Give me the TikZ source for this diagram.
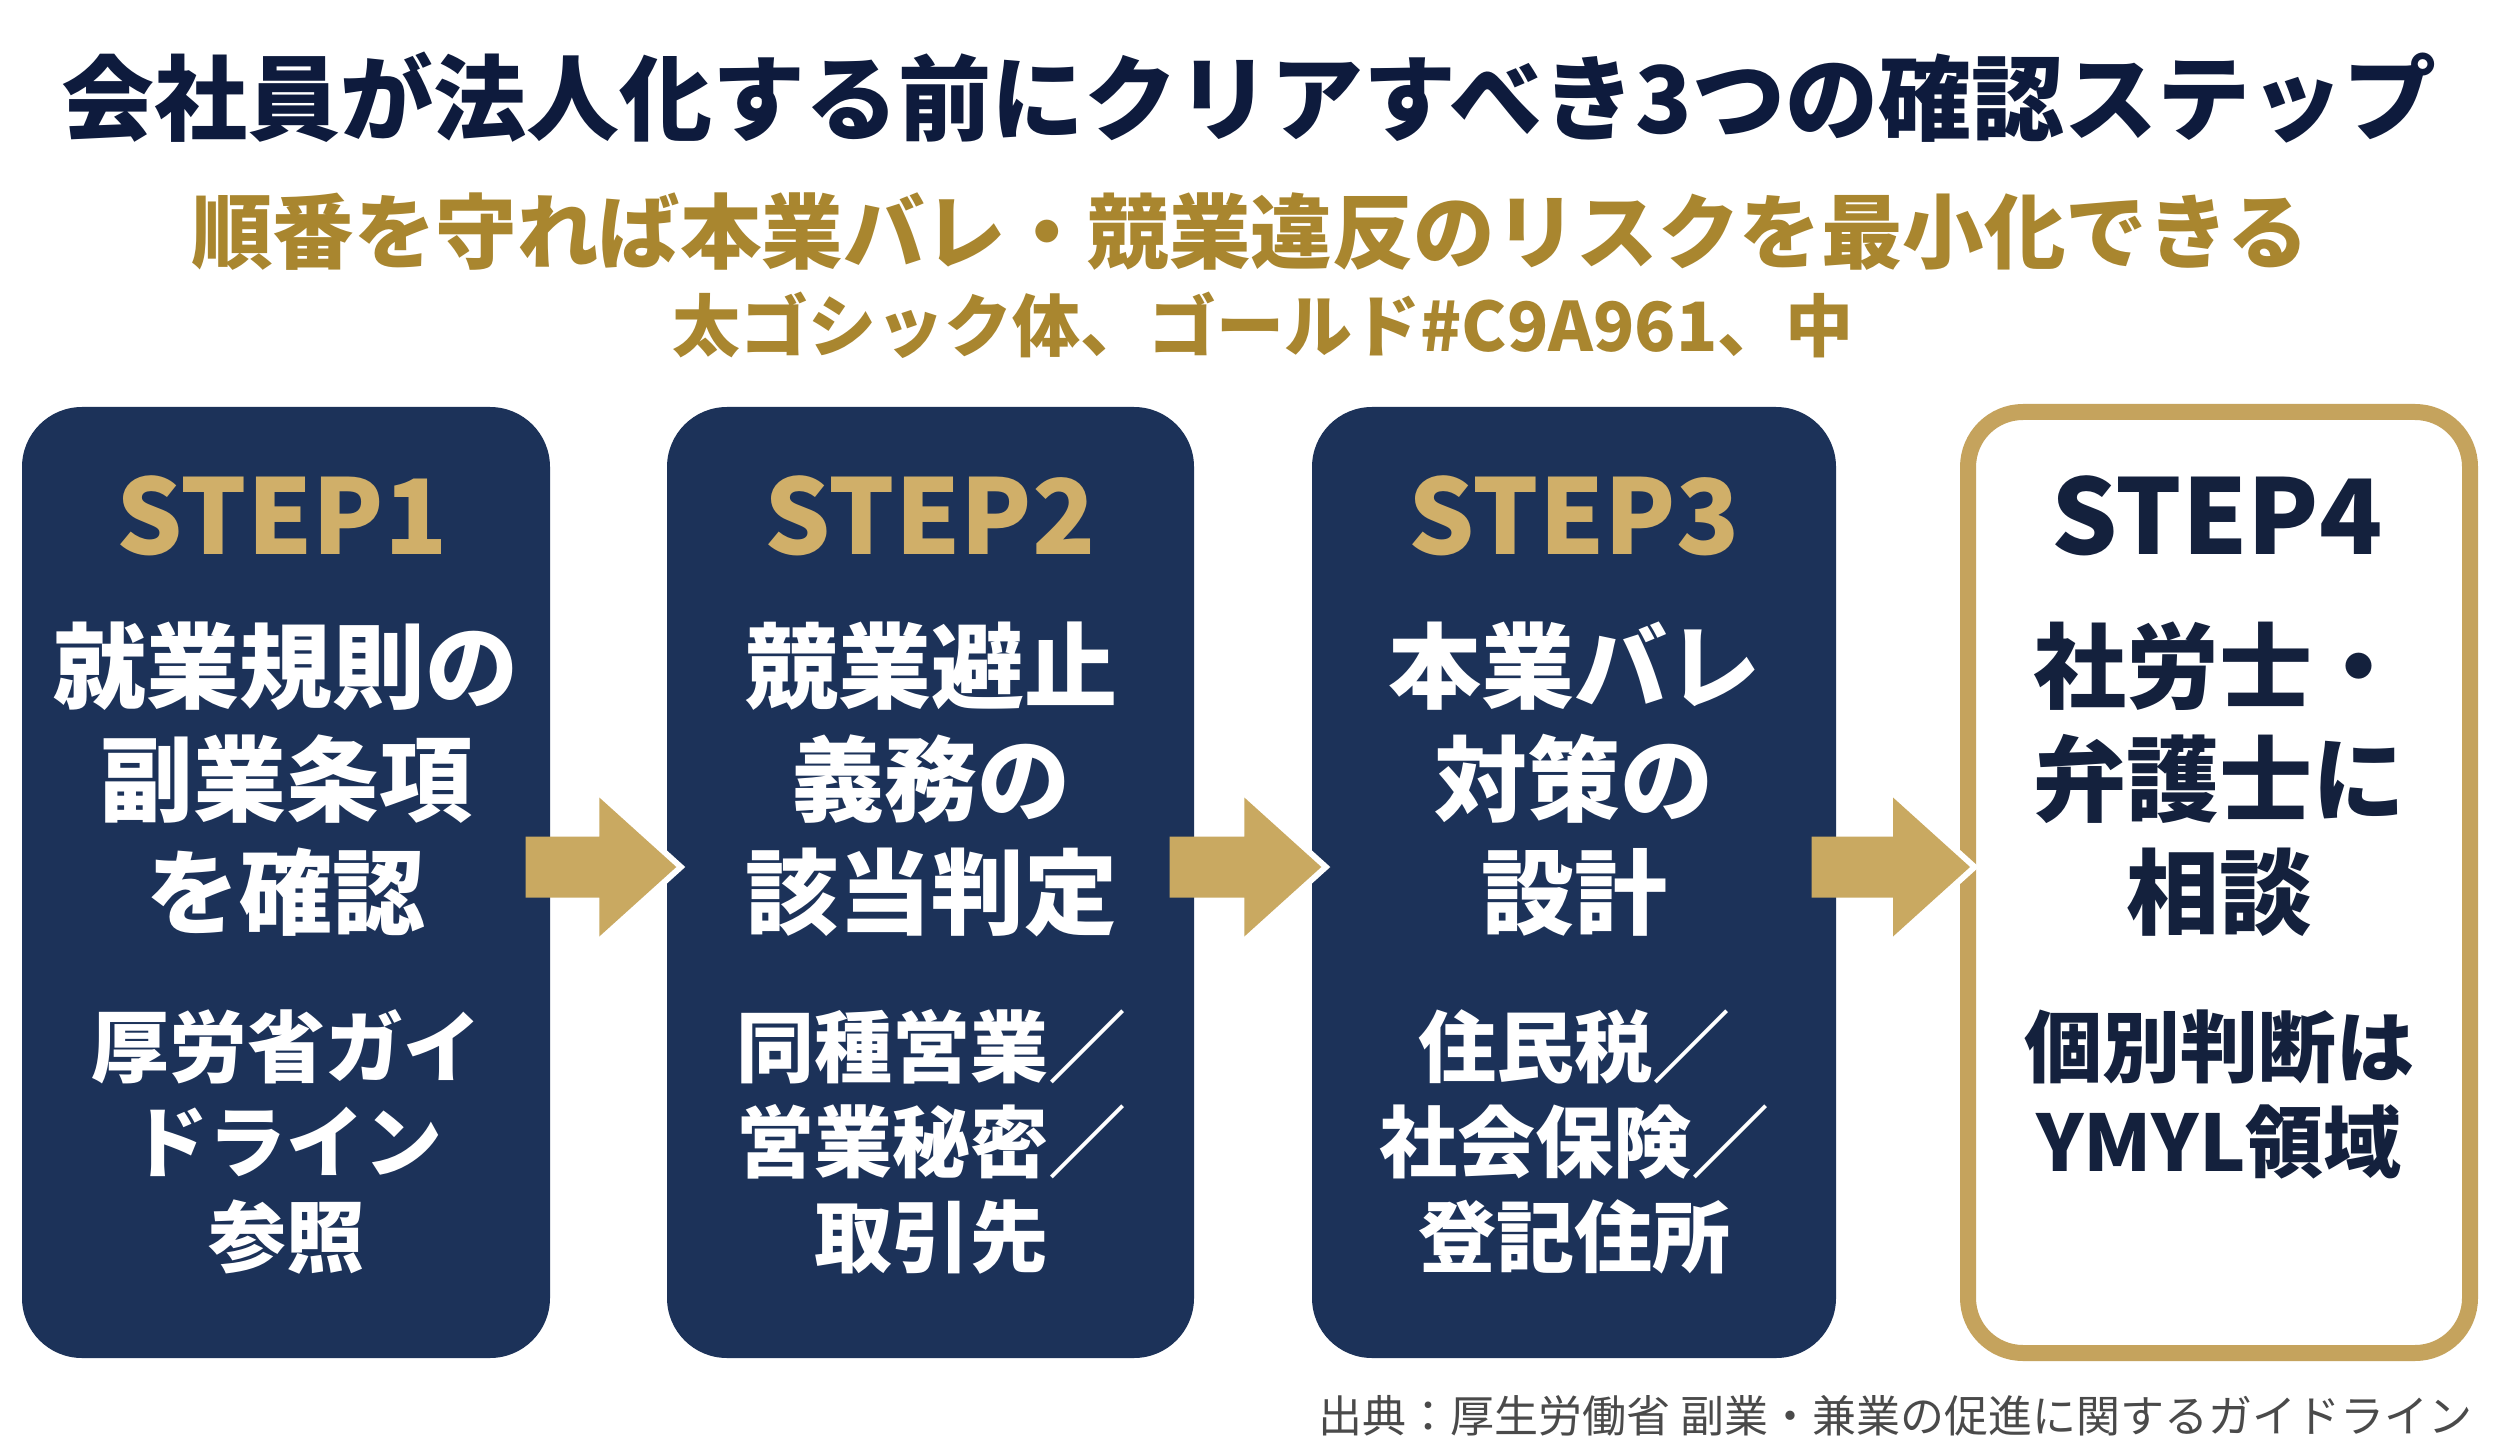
\documentclass[tikz,border=0pt]{standalone}
\usepackage{fontspec}
\setmainfont{Noto Sans CJK JP}
\usetikzlibrary{calc}
\definecolor{navybox}{HTML}{1C3259}
\definecolor{navytitle}{HTML}{0E1B3D}
\definecolor{navytext}{HTML}{14213D}
\definecolor{goldarrow}{HTML}{C9A961}
\definecolor{goldlabel}{HTML}{D0AF69}
\definecolor{golddark}{HTML}{A9862F}
\definecolor{goldframe}{HTML}{C5A35D}
\definecolor{footgray}{HTML}{4A4A4A}
\newcommand\goldarrow[2]{%
  \draw[white,line width=0.12cm,line join=miter]
    ($(#2.west|-#1.east)+(-0.67,0.85)$) -- ($(#2.west|-#1.east)+(0.10,0.155)$) -- ($(#2.west|-#1.east)+(-0.67,-0.54)$);
  \fill[goldarrow]
    ($(#1.east)+(-0.25,0.46)$) -- ($(#2.west|-#1.east)+(-0.67,0.46)$) -- ($(#2.west|-#1.east)+(-0.67,0.85)$)
    -- ($(#2.west|-#1.east)+(0.10,0.155)$)
    -- ($(#2.west|-#1.east)+(-0.67,-0.54)$) -- ($(#2.west|-#1.east)+(-0.67,-0.15)$) -- ($(#1.east)+(-0.25,-0.15)$) -- cycle;}
\begin{document}
\begin{tikzpicture}[
  stepbox/.style={rectangle, rounded corners=0.6cm, fill=navybox, inner sep=0pt},
  framebox/.style={rectangle, rounded corners=0.55cm, draw=goldframe, line width=0.16cm, fill=white, inner sep=0pt},
  steplabel/.style={font=\fontsize{1.04cm}{1.2cm}\selectfont\bfseries, text=goldlabel, inner sep=0pt},
  maintext/.style={font=\fontsize{0.93cm}{1.13cm}\selectfont\bfseries, text=white, align=center, inner sep=0pt},
  subtext/.style={font=\fontsize{0.78cm}{0.95cm}\selectfont\bfseries, text=white, align=center, inner sep=0pt},
]
\useasboundingbox (0,0) rectangle (25,-14.41);
\fill[white] (0,0) rectangle (25,-14.41);

% titles
\node[font=\fontsize{0.93cm}{1.1cm}\selectfont\bfseries, text=navytitle, inner sep=0pt] (title) at (12.49,-0.98) {会社員が法人化する前にクリアすべき3つの確認ステップ};
\node[font=\fontsize{0.815cm}{1cm}\selectfont\bfseries, text=golddark, inner sep=0pt] (subtitle) at (12.50,-2.32) {順番を守れば本業バレ・競業違反のリスクを最小化できる};
\node[font=\fontsize{0.68cm}{0.8cm}\selectfont\bfseries, text=golddark, inner sep=0pt] (note) at (12.63,-3.25) {太ゴシック体、ゴールド\#C9A961、中};

% boxes
\node[stepbox, minimum width=5.28cm, minimum height=9.51cm] (b1) at (2.86,-8.825) {};
\node[stepbox, minimum width=5.27cm, minimum height=9.51cm] (b2) at (9.305,-8.825) {};
\node[stepbox, minimum width=5.24cm, minimum height=9.51cm] (b3) at (15.74,-8.825) {};
\node[framebox, minimum width=5.02cm, minimum height=9.41cm] (b4) at (22.19,-8.825) {};

% box texts
\node[steplabel] (l1) at (2.82,-5.16) {STEP1};
\node[steplabel] (l2) at (9.30,-5.16) {STEP2};
\node[steplabel] (l3) at (15.74,-5.16) {STEP3};
\node[steplabel, text=navytext] (l4) at (22.17,-5.16) {STEP4};

\node[maintext] (m1) at (2.86,-7.79) {就業規則の\\副業条項\\を確認};
\node[maintext] (m2) at (9.31,-7.79) {競業避止\\義務の\\該当判定};
\node[maintext] (m3) at (15.74,-7.79) {本業バレ\\対策の\\設計};
\node[maintext, text=navytext] (m4) at (22.19,-7.79) {社労士・\\弁護士に\\相談};

\node[subtext] (s1) at (2.86,-11.42) {厚労省ガイ\\ドライン\\参照};
\node[subtext] (s2) at (9.31,-11.42) {同種営業／\\営業秘密／\\取引先};
\node[subtext] (s3) at (15.74,-11.42) {住民税／\\社会保険／\\登記住所};
\node[subtext, text=navytext] (s4) at (22.19,-10.945) {個別判断は\\YMYL領域};

% arrows
\goldarrow{b1}{b2}
\goldarrow{b2}{b3}
\goldarrow{b3}{b4}

% footer
\node[font=\fontsize{0.44cm}{0.5cm}\selectfont, text=footgray, anchor=east, inner sep=0pt] (foot) at (24.73,-14.16) {出典：厚生労働省 副業・兼業の促進に関するガイドライン};
\end{tikzpicture}
\end{document}
